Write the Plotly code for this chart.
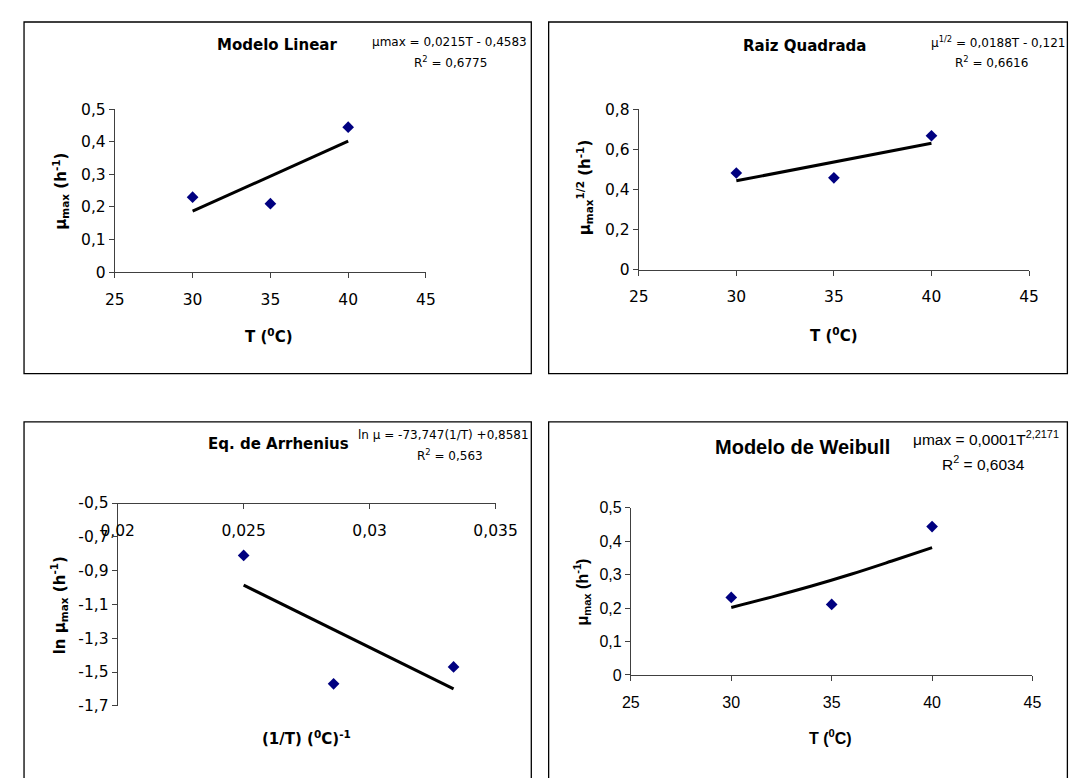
import plotly.graph_objects as go

W, H = 1073, 778

# ---------------- data ----------------
T = [30, 35, 40]
mu_max = [0.23, 0.21, 0.445]          # Modelo Linear
sqrt_mu = [0.482, 0.458, 0.668]       # Raiz Quadrada
inv_T = [0.025, 0.028571, 0.033333]   # Arrhenius x (1/T)
ln_mu = [-0.81, -1.57, -1.47]         # Arrhenius y
mu_weib = [0.232, 0.211, 0.444]       # Weibull

lin_fit_T = [30, 40]
lin_fit = [0.187, 0.402]
sqrt_fit_T = [30, 40]
sqrt_fit = [0.443, 0.631]
arr_fit_x = [0.025, 0.033333]
arr_fit = [-0.986, -1.600]
weib_fit_T = [30, 32, 34, 36, 38, 40]
weib_fit = [0.202, 0.233, 0.266, 0.302, 0.341, 0.381]

T_ticks = [25, 30, 35, 40, 45]
T_ticktext = ["25", "30", "35", "40", "45"]
mu_ticks = [0, 0.1, 0.2, 0.3, 0.4, 0.5]
mu_ticktext = ["0", "0,1", "0,2", "0,3", "0,4", "0,5"]
sqrt_ticks = [0, 0.2, 0.4, 0.6, 0.8]
sqrt_ticktext = ["0", "0,2", "0,4", "0,6", "0,8"]
inv_ticks = [0.02, 0.025, 0.03, 0.035]
inv_ticktext = ["0,02", "0,025", "0,03", "0,035"]
ln_ticks = [-1.7, -1.5, -1.3, -1.1, -0.9, -0.7, -0.5]
ln_ticktext = ["-1,7", "-1,5", "-1,3", "-1,1", "-0,9", "-0,7", "-0,5"]

# ---------------- helpers ----------------
def px(v):
    return v / W


def py(v):
    return 1 - v / H


FA = "DejaVu Sans"
FB = "Liberation Sans"
MARK = dict(symbol="diamond", size=9, color="#000080")
FIT = dict(color="black", width=3)
AX = "#404040"

fig = go.Figure()

fig.add_trace(go.Scatter(x=T, y=mu_max, mode="markers", marker=MARK, xaxis="x", yaxis="y"))
fig.add_trace(go.Scatter(x=lin_fit_T, y=lin_fit, mode="lines", line=FIT, xaxis="x", yaxis="y"))

fig.add_trace(go.Scatter(x=T, y=sqrt_mu, mode="markers", marker=MARK, xaxis="x2", yaxis="y2"))
fig.add_trace(go.Scatter(x=sqrt_fit_T, y=sqrt_fit, mode="lines", line=FIT, xaxis="x2", yaxis="y2"))

fig.add_trace(go.Scatter(x=inv_T, y=ln_mu, mode="markers", marker=MARK, xaxis="x3", yaxis="y3"))
fig.add_trace(go.Scatter(x=arr_fit_x, y=arr_fit, mode="lines", line=FIT, xaxis="x3", yaxis="y3"))

fig.add_trace(go.Scatter(x=T, y=mu_weib, mode="markers", marker=MARK, xaxis="x4", yaxis="y4"))
fig.add_trace(go.Scatter(x=weib_fit_T, y=weib_fit, mode="lines", line=dict(color="black", width=3, shape="spline"),
                         xaxis="x4", yaxis="y4"))


def axis(domain, rng, tv, tt, font, size, **kw):
    d = dict(domain=domain, range=rng, tickvals=tv, ticktext=tt, showgrid=False, zeroline=False,
             showline=True, linecolor=AX, linewidth=1, ticks="outside", ticklen=5, tickcolor=AX,
             tickwidth=1, tickfont=dict(family=font, size=size, color="black"), fixedrange=True)
    d.update(kw)
    return d


# panel domains (pixels)
p1x = [101.5, 424.4]; p1y = [102.7, 269.3]
p2x = [645.2, 1050.2]; p2y = [102.7, 266.7]
p3x = [104.5, 496.6]; p3y = [505.7, 713.3]
p4x = [637.0, 1053.8]; p4y = [510.7, 681.7]

fig.update_layout(
    width=W, height=H, margin=dict(l=0, r=0, t=0, b=0),
    paper_bgcolor="white", plot_bgcolor="white", showlegend=False,
    xaxis=axis([px(p1x[0]), px(p1x[1])], [25, 45], T_ticks, T_ticktext, FA, 15.5, anchor="y",
               ticklabelstandoff=8),
    yaxis=axis([py(p1y[1]), py(p1y[0])], [0, 0.5], mu_ticks, mu_ticktext, FA, 15.5, anchor="x"),
    xaxis2=axis([px(p2x[0]), px(p2x[1])], [25, 45], T_ticks, T_ticktext, FA, 15.5, anchor="y2",
                ticklabelstandoff=8),
    yaxis2=axis([py(p2y[1]), py(p2y[0])], [0, 0.8], sqrt_ticks, sqrt_ticktext, FA, 15.5, anchor="x2"),
    xaxis3=axis([px(p3x[0]), px(p3x[1])], [0.02, 0.035], inv_ticks, inv_ticktext, FA, 15.5,
                anchor="free", position=py(p3y[0]), side="bottom", ticklabelstandoff=8),
    yaxis3=axis([py(p3y[1]), py(p3y[0])], [-1.7, -0.5], ln_ticks, ln_ticktext, FA, 15.5, anchor="x3"),
    xaxis4=axis([px(p4x[0]), px(p4x[1])], [25, 45], T_ticks, T_ticktext, FB, 16, anchor="y4",
                ticklabelstandoff=8),
    yaxis4=axis([py(p4y[1]), py(p4y[0])], [0, 0.5], mu_ticks, mu_ticktext, FB, 16, anchor="x4"),
)

# frames
frames = [(7.3, 13.3, 533.7, 373.3), (551.7, 13.3, 1090, 373.3),
          (7.3, 422.7, 533.7, 795), (551.7, 422.7, 1090, 795)]
for x0, y0, x1, y1 in frames:
    fig.add_shape(type="rect", xref="paper", yref="paper", x0=px(x0), x1=px(x1), y0=py(y0), y1=py(y1),
                  line=dict(color="black", width=1.3), fillcolor="rgba(0,0,0,0)", layer="below")


def ann(text, x, y, family, size, xanchor="center", angle=0, bold=False):
    if bold:
        text = "<b>" + text + "</b>"
    fig.add_annotation(text=text, x=px(x), y=py(y), xref="paper", yref="paper", showarrow=False,
                       xanchor=xanchor, yanchor="middle", textangle=angle,
                       font=dict(family=family, size=size, color="black"))


# Panel 1
ann("Modelo Linear", 270, 37.3, FA, 15, bold=True)
ann("μmax = 0,0215T - 0,4583", 531, 33.3, FA, 12, xanchor="right")
ann("R<sup>2</sup> = 0,6775", 450, 54.3, FA, 12)
ann("T (<sup>0</sup>C)", 262, 335, FA, 15, bold=True)
ann("μ<sub>max</sub> (h<sup>-1</sup>)", 45, 186.7, FA, 15, angle=-90, bold=True)

# Panel 2
ann("Raiz Quadrada", 817, 38.3, FA, 15, bold=True)
ann("μ<sup>1/2</sup> = 0,0188T - 0,121", 946.5, 33.3, FA, 12, xanchor="left")
ann("R<sup>2</sup> = 0,6616", 1011.6, 54, FA, 12)
ann("T (<sup>0</sup>C)", 848, 333.3, FA, 15, bold=True)
ann("μ<sub>max</sub><sup>1/2</sup> (h<sup>-1</sup>)", 589, 183, FA, 15, angle=-90, bold=True)

# Panel 3
ann("Eq. de Arrhenius", 271, 445, FA, 15, bold=True)
ann("ln μ = -73,747(1/T) +0,8581", 533, 436, FA, 12, xanchor="right")
ann("R<sup>2</sup> = 0,563", 449, 456.7, FA, 12)
ann("(1/T) (<sup>0</sup>C)<sup>-1</sup>", 300, 746.7, FA, 15, bold=True)
ann("ln μ<sub>max</sub> (h<sup>-1</sup>)", 44, 610, FA, 15, angle=-90, bold=True)

# Panel 4
ann("Modelo de Weibull", 815.5, 448.3, FB, 20, bold=True)
ann("μmax = 0,0001T<sup>2,2171</sup>", 927.8, 439.3, FB, 15.5, xanchor="left")
ann("R<sup>2</sup> = 0,6034", 1002.6, 465, FB, 15.5)
ann("T (<sup>0</sup>C)", 844.4, 745, FB, 16, bold=True)
ann("μ<sub>max</sub> (h<sup>-1</sup>)", 586, 596.7, FB, 16, angle=-90, bold=True)

fig.write_html("out.html", config=dict(displayModeBar=False),
               post_script="document.body.style.margin='0';document.body.style.overflow='hidden';")
